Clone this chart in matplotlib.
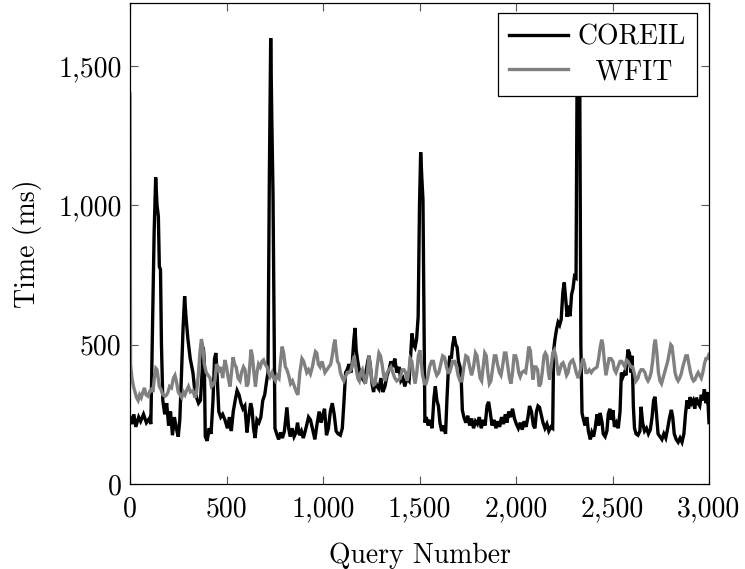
import matplotlib
matplotlib.use("Agg")
import matplotlib.pyplot as plt
from matplotlib.ticker import FixedLocator, FixedFormatter

plt.rcParams['font.family'] = ['cmr10', 'DejaVu Serif']
plt.rcParams['mathtext.fontset'] = 'cm'
plt.rcParams['axes.unicode_minus'] = False

# ---------------- data ----------------
coreil_q = [0, 10, 20, 30, 45, 55, 70, 85, 100, 108, 115, 125, 133, 140, 147, 152, 158, 163, 170, 180,
            190, 200, 210, 220, 230, 240, 250, 258, 266, 275, 283, 290, 300, 312, 326, 335, 345, 355, 365, 372,
            380, 385, 390, 400, 410, 420, 430, 438, 445, 452, 460, 470, 480, 492, 505, 515, 525, 535, 545, 555,
            565, 575, 585, 595, 606, 615, 625, 632, 640, 648, 658, 668, 678, 688, 698, 708, 715, 722, 729, 735,
            741, 746, 751, 760, 770, 780, 790, 800, 813, 822, 830, 840, 850, 860, 868, 878, 888, 898, 906, 915,
            925, 935, 945, 958, 968, 980, 990, 1000, 1008, 1018, 1028, 1038, 1048, 1058, 1068, 1078, 1090, 1100, 1109, 1117,
            1125, 1135, 1145, 1152, 1160, 1166, 1172, 1180, 1190, 1202, 1212, 1222, 1232, 1238, 1246, 1254, 1262, 1270, 1280, 1290,
            1300, 1310, 1321, 1332, 1342, 1352, 1362, 1372, 1382, 1394, 1404, 1414, 1424, 1435, 1446, 1455, 1461, 1469, 1477, 1485,
            1493, 1500, 1506, 1512, 1518, 1523, 1528, 1535, 1545, 1555, 1565, 1575, 1582, 1590, 1598, 1606, 1615, 1625, 1635, 1642,
            1650, 1658, 1665, 1672, 1680, 1688, 1695, 1702, 1710, 1716, 1722, 1730, 1740, 1750, 1760, 1770, 1780, 1790, 1800, 1810,
            1820, 1830, 1840, 1850, 1858, 1866, 1876, 1886, 1896, 1906, 1915, 1925, 1935, 1945, 1953, 1962, 1972, 1982, 1992, 2002,
            2012, 2022, 2032, 2042, 2052, 2062, 2070, 2080, 2090, 2098, 2106, 2114, 2122, 2130, 2140, 2150, 2160, 2170, 2181, 2190,
            2195, 2202, 2210, 2218, 2226, 2234, 2243, 2250, 2258, 2265, 2272, 2280, 2288, 2295, 2303, 2311, 2316, 2322, 2330, 2336,
            2342, 2350, 2358, 2367, 2375, 2385, 2393, 2402, 2410, 2420, 2428, 2436, 2446, 2452, 2462, 2471, 2478, 2486, 2494, 2502,
            2510, 2520, 2530, 2539, 2546, 2554, 2562, 2570, 2580, 2588, 2596, 2602, 2608, 2614, 2622, 2632, 2642, 2648, 2656, 2666,
            2676, 2686, 2696, 2705, 2713, 2720, 2728, 2736, 2746, 2756, 2766, 2776, 2786, 2796, 2805, 2812, 2820, 2830, 2840, 2850,
            2860, 2870, 2878, 2886, 2894, 2902, 2910, 2918, 2926, 2935, 2943, 2952, 2960, 2968, 2976, 2984, 2992, 3000]
coreil_ms = [240, 215, 250, 205, 240, 225, 250, 220, 235, 215, 500, 900, 1100, 1000, 960, 780, 770, 500, 300, 250,
             290, 210, 260, 175, 240, 200, 170, 230, 380, 560, 674, 600, 520, 450, 400, 340, 310, 290, 300, 380,
             490, 440, 170, 155, 200, 180, 300, 450, 470, 380, 260, 240, 250, 230, 200, 240, 190, 260, 300, 335,
             320, 290, 270, 280, 185, 240, 290, 270, 200, 165, 230, 220, 240, 300, 320, 370, 400, 1100, 1600, 1300,
             1040, 600, 200, 180, 160, 185, 165, 190, 275, 200, 170, 200, 170, 185, 220, 175, 190, 165, 185, 210,
             240, 230, 200, 160, 210, 260, 220, 250, 270, 175, 200, 260, 290, 250, 190, 180, 175, 200, 300, 400,
             410, 430, 400, 440, 520, 560, 480, 440, 400, 380, 370, 400, 440, 460, 420, 360, 330, 370, 350, 340,
             380, 330, 350, 390, 410, 440, 420, 450, 400, 420, 370, 380, 350, 380, 370, 470, 540, 500, 490, 520,
             600, 1000, 1190, 1100, 1020, 600, 220, 240, 210, 230, 200, 310, 350, 300, 280, 220, 190, 210, 180, 300,
             420, 460, 450, 500, 530, 500, 490, 440, 420, 380, 265, 240, 220, 245, 210, 235, 200, 225, 215, 240,
             200, 230, 210, 280, 295, 260, 210, 230, 200, 225, 205, 240, 215, 250, 220, 260, 240, 270, 235, 215,
             200, 220, 195, 225, 205, 240, 280, 260, 210, 200, 260, 280, 275, 250, 220, 200, 215, 190, 205, 200,
             480, 520, 555, 580, 570, 590, 690, 723, 660, 600, 640, 602, 680, 700, 745, 740, 1400, 1650, 1500, 500,
             255, 230, 210, 240, 190, 160, 185, 170, 200, 250, 210, 255, 220, 180, 170, 190, 250, 270, 230, 265,
             205, 220, 200, 260, 400, 385, 400, 390, 482, 470, 400, 460, 280, 200, 180, 175, 190, 277, 220, 190,
             200, 180, 195, 240, 300, 313, 250, 180, 170, 160, 180, 165, 200, 240, 266, 240, 180, 160, 150, 165,
             150, 180, 250, 300, 270, 312, 290, 300, 270, 310, 290, 280, 320, 300, 340, 290, 330, 220]

wfit_q = [0, 3, 10, 18, 26, 34, 42, 50, 58, 67, 75, 83, 93, 104, 112, 119, 126, 134, 140, 146,
          152, 160, 170, 181, 190, 197, 205, 215, 225, 233, 240, 250, 259, 268, 277, 285, 293, 303, 313, 326,
          337, 345, 355, 362, 370, 378, 385, 395, 405, 415, 422, 430, 440, 448, 456, 464, 472, 480, 492, 500,
          508, 518, 526, 534, 542, 550, 560, 570, 578, 588, 596, 604, 612, 620, 627, 634, 642, 650, 658, 666,
          675, 684, 692, 700, 710, 718, 726, 736, 745, 754, 762, 772, 780, 788, 796, 805, 813, 822, 832, 842,
          852, 862, 870, 880, 891, 900, 908, 916, 925, 935, 945, 953, 961, 968, 976, 985, 995, 1003, 1010, 1020,
          1030, 1040, 1048, 1056, 1062, 1068, 1075, 1083, 1090, 1100, 1108, 1116, 1126, 1135, 1145, 1155, 1162, 1170, 1180, 1188,
          1196, 1204, 1212, 1220, 1230, 1238, 1245, 1254, 1262, 1270, 1280, 1290, 1298, 1306, 1314, 1322, 1332, 1342, 1352, 1362,
          1372, 1382, 1392, 1400, 1410, 1420, 1428, 1436, 1444, 1452, 1460, 1468, 1477, 1486, 1494, 1502, 1508, 1516, 1526, 1534,
          1542, 1552, 1562, 1572, 1580, 1590, 1600, 1610, 1620, 1630, 1640, 1648, 1656, 1664, 1672, 1682, 1692, 1700, 1710, 1720,
          1730, 1740, 1750, 1760, 1770, 1780, 1790, 1798, 1806, 1814, 1822, 1830, 1838, 1846, 1854, 1862, 1870, 1880, 1888, 1896,
          1904, 1914, 1922, 1930, 1940, 1948, 1956, 1966, 1974, 1982, 1990, 1998, 2006, 2014, 2022, 2030, 2040, 2050, 2058, 2066,
          2074, 2082, 2088, 2096, 2104, 2112, 2120, 2128, 2136, 2145, 2152, 2160, 2168, 2174, 2182, 2190, 2198, 2206, 2214, 2220,
          2228, 2236, 2244, 2252, 2262, 2270, 2278, 2286, 2294, 2302, 2312, 2322, 2330, 2340, 2347, 2355, 2362, 2370, 2380, 2390,
          2400, 2410, 2420, 2428, 2436, 2444, 2450, 2458, 2466, 2474, 2482, 2492, 2502, 2510, 2518, 2528, 2539, 2548, 2556, 2564,
          2572, 2580, 2588, 2596, 2604, 2612, 2622, 2632, 2640, 2648, 2658, 2668, 2676, 2684, 2692, 2700, 2708, 2716, 2722, 2730,
          2738, 2746, 2754, 2762, 2770, 2778, 2786, 2794, 2802, 2808, 2816, 2824, 2832, 2840, 2848, 2856, 2864, 2872, 2880, 2888,
          2896, 2904, 2912, 2920, 2928, 2936, 2944, 2952, 2960, 2968, 2976, 2984, 2992, 3000]
wfit_ms = [1400, 430, 380, 350, 330, 310, 300, 320, 310, 330, 345, 320, 315, 335, 340, 330, 380, 415, 410, 380,
           350, 340, 320, 315, 320, 330, 350, 345, 380, 390, 370, 330, 320, 310, 330, 320, 335, 350, 330, 335,
           310, 330, 400, 470, 520, 490, 430, 400, 390, 380, 350, 355, 370, 430, 420, 400, 420, 380, 445, 420,
           385, 350, 400, 455, 430, 420, 380, 370, 400, 420, 410, 350, 360, 420, 482, 460, 400, 350, 400, 430,
           420, 440, 445, 430, 420, 400, 385, 400, 380, 370, 390, 380, 440, 493, 470, 420, 410, 390, 360, 370,
           350, 330, 320, 400, 450, 440, 420, 400, 410, 395, 420, 450, 475, 470, 430, 420, 440, 420, 400, 410,
           420, 430, 460, 500, 518, 480, 440, 430, 400, 380, 370, 385, 400, 400, 410, 440, 460, 420, 380, 370,
           400, 410, 380, 360, 400, 460, 420, 370, 355, 360, 420, 470, 460, 430, 390, 370, 400, 410, 420, 400,
           380, 370, 375, 380, 410, 410, 400, 370, 400, 450, 440, 400, 360, 400, 460, 480, 440, 390, 360, 360,
           380, 420, 440, 440, 410, 390, 400, 430, 460, 455, 420, 400, 400, 420, 440, 440, 420, 390, 370, 370,
           420, 460, 455, 420, 390, 420, 470, 460, 420, 380, 370, 420, 470, 460, 400, 360, 370, 420, 460, 460,
           430, 400, 390, 420, 470, 470, 430, 380, 360, 400, 460, 460, 440, 400, 385, 400, 405, 400, 440, 493,
           480, 420, 375, 420, 420, 410, 350, 360, 400, 460, 470, 460, 400, 375, 420, 470, 480, 460, 420, 390,
           410, 430, 435, 420, 390, 400, 430, 440, 445, 430, 400, 380, 400, 430, 450, 430, 400, 400, 410, 400,
           410, 415, 420, 450, 490, 518, 500, 440, 390, 420, 450, 450, 440, 410, 400, 420, 440, 440, 430, 420,
           445, 440, 430, 420, 420, 400, 370, 380, 400, 410, 410, 400, 380, 370, 380, 400, 440, 500, 518, 470,
           400, 370, 360, 380, 400, 420, 440, 470, 500, 495, 450, 400, 380, 370, 380, 395, 420, 440, 460, 460,
           430, 400, 380, 370, 375, 390, 400, 390, 380, 400, 430, 450, 450, 465]

series_names = ["COREIL", "WFIT"]
x_ticks = [0, 500, 1000, 1500, 2000, 2500, 3000]
x_tick_labels = ["0", "500", "1,000", "1,500", "2,000", "2,500", "3,000"]
y_ticks = [0, 500, 1000, 1500]
y_tick_labels = ["0", "500", "1,000", "1,500"]

# ---------------- figure ----------------
fig = plt.figure(figsize=(7.45, 5.69), dpi=100)
ax = fig.add_axes([130 / 745, 85 / 569, 579 / 745, 481 / 569])

ax.plot(coreil_q, coreil_ms, color="black", lw=2.4, label=series_names[0], solid_joinstyle="miter")
ax.plot(wfit_q, wfit_ms, color="#808080", lw=2.4, label=series_names[1], solid_joinstyle="miter")

ax.set_xlim(0, 3000)
ax.set_ylim(0, 1726)

ax.xaxis.set_major_locator(FixedLocator(x_ticks))
ax.xaxis.set_major_formatter(FixedFormatter(x_tick_labels))
ax.yaxis.set_major_locator(FixedLocator(y_ticks))
ax.yaxis.set_major_formatter(FixedFormatter(y_tick_labels))

ax.tick_params(axis="both", which="major", direction="in", length=6, width=0.8,
               color="#555555", top=True, right=True, labelsize=20)
ax.tick_params(axis="x", pad=9)
ax.tick_params(axis="y", pad=6)

for s in ax.spines.values():
    s.set_linewidth(0.9)
    s.set_color("black")

ax.set_xlabel("Query Number", fontsize=20, labelpad=14)
ax.set_ylabel("Time (ms)", fontsize=20, labelpad=12)

leg = ax.legend(loc="upper right", bbox_to_anchor=(0.979, 0.979), fontsize=20,
                frameon=True, fancybox=False, edgecolor="black", framealpha=1,
                handlelength=2.1, handletextpad=0.35, borderpad=0.4,
                labelspacing=0.3, borderaxespad=0)
leg.get_frame().set_linewidth(0.9)
for t in leg.get_texts():
    if t.get_text() == "WFIT":
        t.set_text("  WFIT")

fig.savefig("out.png", dpi=100)
